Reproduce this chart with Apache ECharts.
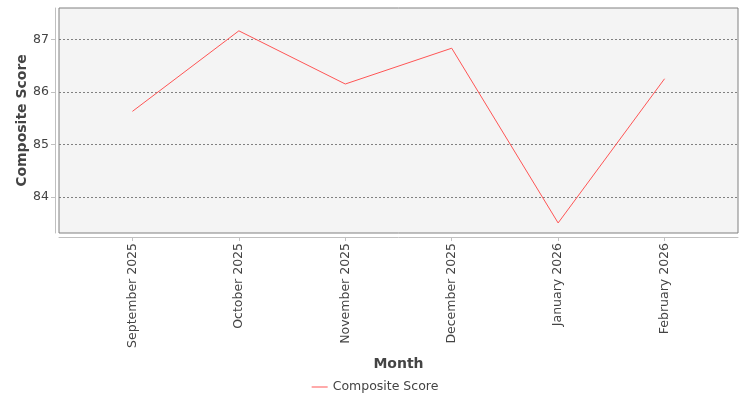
<!DOCTYPE html>
<html>
<head>
<meta charset="utf-8">
<script src="https://cdn.jsdelivr.net/npm/echarts@6/dist/echarts.min.js"></script>
<style>
  html, body { margin: 0; padding: 0; background: #fff; }
  #chart { width: 750px; height: 400px; }
</style>
</head>
<body>
<div id="chart"></div>
<script>
// data
var months = ['September 2025', 'October 2025', 'November 2025', 'December 2025', 'January 2026', 'February 2026'];
var compositeScore = [85.63, 87.16, 86.15, 86.83, 83.51, 86.25];
var yTicks = [84, 85, 86, 87];

var font = 'DejaVu Sans';
var chart = echarts.init(document.getElementById('chart'));

var option = {
  animation: false,
  textStyle: { fontFamily: font },
  grid: {
    left: 59, top: 8, width: 679, height: 225,
    show: true,
    backgroundColor: '#f4f4f4',
    borderColor: '#808080',
    borderWidth: 1
  },
  legend: {
    bottom: 1.5,
    left: 'center',
    itemWidth: 16,
    itemHeight: 1,
    itemGap: 4,
    textStyle: { fontFamily: font, fontSize: 12.5, color: '#444' },
    data: [{ name: 'Composite Score', icon: 'rect' }]
  },
  xAxis: {
    type: 'value',
    min: -0.69,
    max: 5.69,
    offset: 4,
    name: 'Month',
    nameLocation: 'middle',
    nameGap: 120,
    nameMoveOverlap: false,
    nameTextStyle: { fontFamily: font, fontSize: 14, fontWeight: 'bold', color: '#444' },
    axisLine: { show: true, onZero: false, lineStyle: { color: '#c0c0c0' } },
    axisTick: { show: true, length: 4, lineStyle: { color: '#c0c0c0' }, customValues: [0, 1, 2, 3, 4, 5] },
    axisLabel: {
      rotate: 90,
      margin: 6,
      fontSize: 12.5,
      color: '#444',
      customValues: [0, 1, 2, 3, 4, 5],
      formatter: function (v) { return months[Math.round(v)]; }
    },
    splitLine: { show: false }
  },
  yAxis: {
    type: 'value',
    min: 83.319,
    max: 87.594,
    splitNumber: 4,
    offset: 4,
    name: 'Composite Score',
    nameLocation: 'middle',
    nameGap: 26,
    nameMoveOverlap: false,
    nameTextStyle: { fontFamily: font, fontSize: 14, fontWeight: 'bold', color: '#444' },
    axisLine: { show: true, onZero: false, lineStyle: { color: '#c0c0c0' } },
    axisTick: { show: true, length: 4, lineStyle: { color: '#c0c0c0' }, customValues: yTicks },
    axisLabel: { fontSize: 12.5, color: '#444', margin: 6, customValues: yTicks },
    splitLine: { show: true, lineStyle: { color: '#808080', type: [2, 2], width: 1 } }
  },
  series: [{
    name: 'Composite Score',
    type: 'line',
    symbol: 'none',
    lineStyle: { color: '#ff5555', width: 1 },
    itemStyle: { color: '#ff5555' },
    data: compositeScore.map(function (v, i) { return [i, v]; })
  }]
};
chart.setOption(option);
</script>
</body>
</html>
